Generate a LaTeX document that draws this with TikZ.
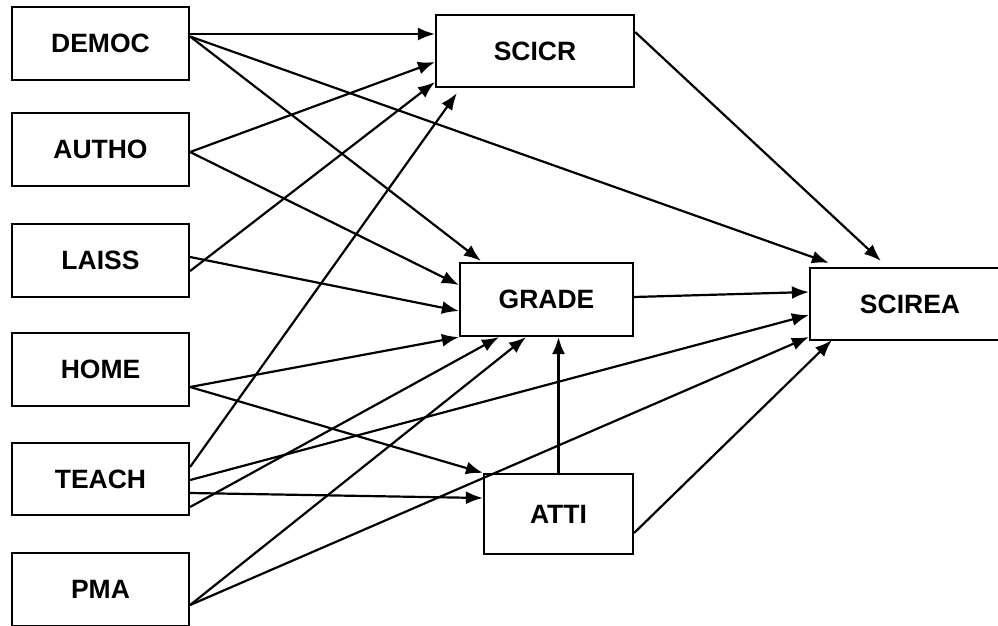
\documentclass[tikz,border=0pt]{standalone}
\usepackage{fontspec}
\setmainfont{Liberation Sans}
\usetikzlibrary{arrows.meta,calc}

\tikzset{
  varbox/.style={draw, line width=2.2pt, rectangle, inner sep=0pt,
    font=\fontsize{26.5}{30}\selectfont\bfseries},
  link/.style={draw, line width=2.2pt, -{Latex[length=17pt,width=13pt]}}
}

\begin{document}
\begin{tikzpicture}[x=1pt,y=-1pt]
\path[use as bounding box, clip] (0,0) rectangle (998,625);

% exogenous variables
\node[varbox, minimum width=177pt, minimum height=73pt] (democ) at (100.5,43.5) {DEMOC};
\node[varbox, minimum width=177pt, minimum height=73pt] (autho) at (100.5,149.5) {AUTHO};
\node[varbox, minimum width=177pt, minimum height=73pt] (laiss) at (100.5,260.5) {LAISS};
\node[varbox, minimum width=177pt, minimum height=73pt] (home)  at (100.5,369.5) {HOME};
\node[varbox, minimum width=177pt, minimum height=72pt] (teach) at (100.5,479) {TEACH};
\node[varbox, minimum width=177pt, minimum height=73pt] (pma)   at (100.5,589.5) {PMA};

% mediators and outcome
\node[varbox, minimum width=198pt, minimum height=72pt] (scicr)  at (535,51) {SCICR};
\node[varbox, minimum width=173pt, minimum height=73pt] (grade)  at (546.5,299.5) {GRADE};
\node[varbox, minimum width=149pt, minimum height=80pt] (atti)   at (558.5,514) {ATTI};
\node[varbox, minimum width=200pt, minimum height=72pt] (scirea) at (910,304) {SCIREA};

% DEMOC
\path[link] ($(democ.east)+(0,-9.5)$) -- ($(scicr.west)+(0,-17)$);
\path[link] ($(democ.east)+(0,-7)$) -- ($(grade.north west)+(22,-1)$);
\path[link] ($(democ.east)+(0,-7)$) -- ($(scirea.north west)+(20,-4)$);
% AUTHO
\path[link] ($(autho.east)+(0,2.5)$) -- ($(scicr.west)+(0,11)$);
\path[link] ($(autho.east)+(0,2.5)$) -- ($(grade.west)+(0,-14.5)$);
% LAISS
\path[link] ($(laiss.east)+(0,10.5)$) -- ($(scicr.west)+(0,31)$);
\path[link] ($(laiss.east)+(0,-3.5)$) -- ($(grade.west)+(0,11.5)$);
% HOME
\path[link] ($(home.east)+(0,17.5)$) -- (grade.south west);
\path[link] ($(home.east)+(0,17.5)$) -- (atti.north west);
% TEACH
\path[link] ($(teach.east)+(0,-12)$) -- ($(scicr.south west)+(22,5)$);
\path[link] ($(teach.east)+(0,1)$) -- ($(scirea.west)+(0,11)$);
\path[link] ($(teach.east)+(0,14)$) -- ($(atti.west)+(0,-16)$);
\path[link] ($(teach.east)+(0,28)$) -- ($(grade.south west)+(40,0)$);
% PMA
\path[link] ($(pma.east)+(0,15.5)$) -- ($(grade.south west)+(67,0)$);
\path[link] ($(pma.east)+(0,15.5)$) -- ($(scirea.west)+(0,33)$);
% mediators to outcome
\path[link] ($(scicr.east)+(0,-19)$) -- ($(scirea.north west)+(72,-6)$);
\path[link] ($(grade.east)+(0,-2.5)$) -- ($(scirea.west)+(0,-12)$);
\path[link] (atti.north) -- (atti.north |- grade.south);
\path[link] ($(atti.east)+(0,19)$) -- ($(scirea.south west)+(23,-1)$);
\end{tikzpicture}
\end{document}
